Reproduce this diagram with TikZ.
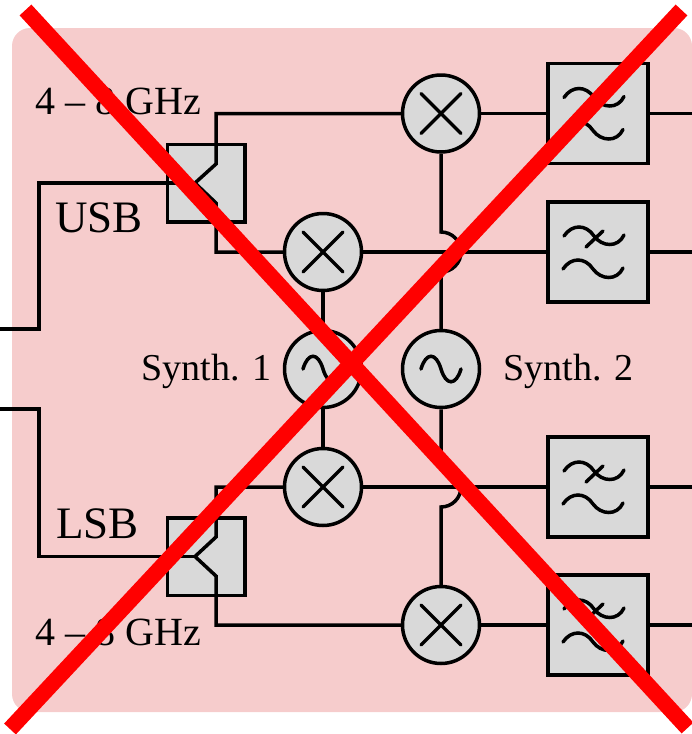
\documentclass[tikz,border=0pt]{standalone}
\usepackage{fontspec}
\setmainfont{Liberation Serif}
\definecolor{panelpink}{HTML}{F6CCCC}
\definecolor{boxgray}{HTML}{D9D9D9}
\tikzset{
  wire/.style={line width=3.5pt,black},
  circ/.style={circle,draw=black,fill=boxgray,line width=3.5pt,minimum size=77pt,inner sep=0pt},
  hybridbox/.style={rectangle,draw=black,fill=boxgray,line width=3.5pt,minimum width=77.5pt,minimum height=77.5pt,inner sep=0pt},
  filterbox/.style={rectangle,draw=black,fill=boxgray,line width=3.5pt,minimum width=100pt,minimum height=100pt,inner sep=0pt},
  glyph/.style={line width=3.5pt,line cap=round,black},
  lbl/.style={anchor=base west,inner sep=0pt,font=\fontsize{40}{42}\selectfont},
  lblsyn/.style={anchor=base west,inner sep=0pt,font=\fontsize{38}{40}\selectfont},
  lblbig/.style={anchor=base west,inner sep=0pt,font=\fontsize{45}{47}\selectfont},
  crossout/.style={line width=16pt,red}
}
\begin{document}
\begin{tikzpicture}[x=1pt,y=-1pt]
\useasboundingbox (0,0) rectangle (692,734);
\clip (0,0) rectangle (692,734);
\fill[panelpink,rounded corners=18pt] (12,28) rectangle (692,712);

% blocks
\node[hybridbox] (h1) at (206.3,183) {};
\node[hybridbox] (h2) at (206.3,556.5) {};
\node[circ] (m1) at (441,113.5) {};
\node[circ] (m2) at (323,252) {};
\node[circ] (m3) at (323,487) {};
\node[circ] (m4) at (441,625) {};
\node[circ] (s1) at (323,369) {};
\node[circ] (s2) at (441,369) {};
\node[filterbox] (f1) at (598,113.5) {};
\node[filterbox] (f2) at (598,252) {};
\node[filterbox] (f3) at (598,487) {};
\node[filterbox] (f4) at (598,625) {};

% free ends and bends
\coordinate (in1) at (0,329);
\coordinate (in2) at (0,409);
\coordinate (t1) at (195,183);
\coordinate (t2) at (195,556.5);
\coordinate (o1) at (692,113.5);
\coordinate (o2) at (692,252);
\coordinate (o3) at (692,487);
\coordinate (o4) at (692,625);

% connectors
\draw[wire] (in1) -- (39,329) -- (39,183) -- (h1.west) -- (t1);
\draw[wire] (in2) -- (39,409) -- (39,556.5) -- (h2.west) -- (t2);
\draw[wire] (t1) -- (216,164) -- (216,113.5) -- (m1.west);
\draw[wire] (t1) -- (216,203) -- (216,252) -- (m2.west);
\draw[wire] (t2) -- (216,537) -- (216,487) -- (m3.west);
\draw[wire] (t2) -- (216,576) -- (216,625) -- (m4.west);
\draw[wire] (m1.east) -- (f1.west);
\draw[wire] (m2.east) -- (f2.west);
\draw[wire] (m3.east) -- (f3.west);
\draw[wire] (m4.east) -- (f4.west);
\draw[wire] (f1.east) -- (o1);
\draw[wire] (f2.east) -- (o2);
\draw[wire] (f3.east) -- (o3);
\draw[wire] (f4.east) -- (o4);
\draw[wire] (m2.south) -- (s1.north);
\draw[wire] (s1.south) -- (m3.north);
\draw[wire] (m1.south) -- (441,232) arc[start angle=-90,end angle=90,radius=20] -- (s2.north);
\draw[wire] (s2.south) -- (441,467) arc[start angle=-90,end angle=90,radius=20] -- (m4.north);

% mixer crosses
\foreach \n in {m1,m2,m3,m4}{
  \draw[glyph] (\n.center) ++(-20,-20) -- ++(40,40);
  \draw[glyph] (\n.center) ++(-20,20) -- ++(40,-40);
}
% synth waves
\foreach \n in {s1,s2}{
  \draw[glyph] (\n.center) ++(-20,0) .. controls +(5,-17) and +(-5,-17) .. ++(20,0)
     .. controls +(5,17) and +(-5,17) .. ++(20,0);
}
% filter waves
\foreach \n in {f1,f2,f3,f4}{
  \draw[glyph] (\n.center) ++(-34,-16) .. controls +(8,-12) and +(-8,-12) .. ++(30,0)
     .. controls +(8,11) and +(-6,13) .. ++(30,-1);
  \draw[glyph] (\n.center) ++(-35,17) .. controls +(8,-12) and +(-8,-12) .. ++(30,0)
     .. controls +(8,11) and +(-6,13) .. ++(30,-1);
  \draw[glyph] (\n.center) ++(-12,-5) -- ++(17,-16);
}

% labels
\node[lbl] (l1) at (35.5,114) {4 – 8 GHz};
\node[lbl] (l2) at (35.5,645) {4 – 8 GHz};
\node[lblsyn] (l3) at (141.5,380) {Synth. 1};
\node[lblsyn] (l4) at (503.5,380) {Synth. 2};
\node[lblbig] (l5) at (55,232) {USB};
\node[lblbig] (l6) at (56,538) {LSB};

% cross-out
\coordinate (xa) at (25.5,10);
\coordinate (xb) at (687.5,728);
\coordinate (xc) at (681.5,10);
\coordinate (xd) at (10,729);
\draw[crossout] (xa) -- (xb);
\draw[crossout] (xc) -- (xd);
\end{tikzpicture}
\end{document}
